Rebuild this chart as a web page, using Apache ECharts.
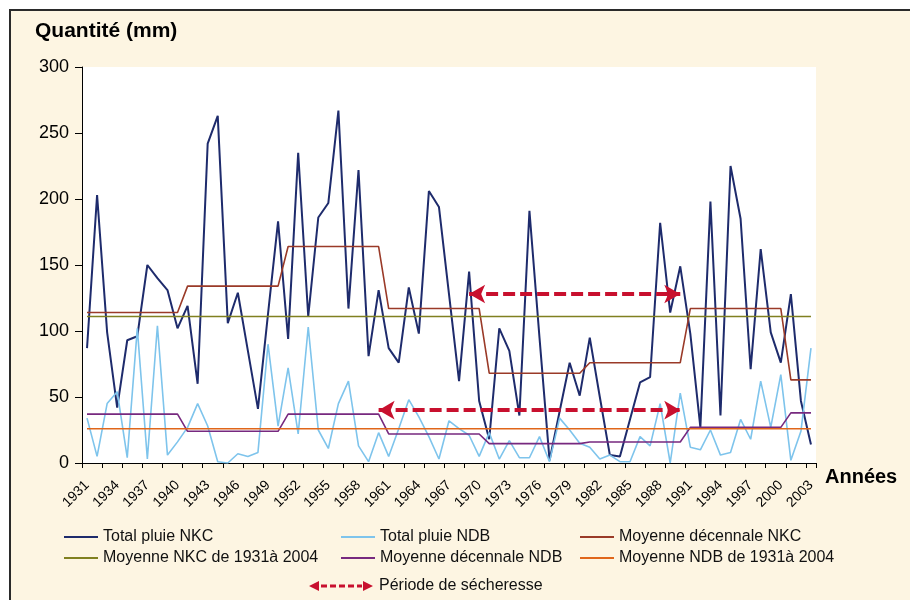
<!DOCTYPE html>
<html>
<head>
<meta charset="utf-8">
<script src="https://cdn.jsdelivr.net/npm/echarts@6/dist/echarts.min.js"></script>
<style>
  html, body { margin: 0; padding: 0; background: #fff; }
  #chart { width: 910px; height: 600px; }
</style>
</head>
<body>
<div id="chart"></div>
<script>
// années 1931 - 2003
const years = []
for (let y = 1931; y <= 2003; y++) years.push(String(y))

// Total pluie (mm)
const pluieNKC = [
  87, 203, 99, 42, 93, 96, 150, 140, 131, 102,
  119, 60, 242, 263, 106, 129, 85, 41, 113, 183,
  94, 235, 111, 186, 197, 267, 117, 222, 81, 131,
  87, 76, 133, 98, 206, 194, 128, 62, 145, 47,
  18, 102, 85, 36, 191, 95, 2, 39, 76, 51,
  95, 50, 6, 5, 33, 61, 65, 182, 114, 149,
  98, 27, 198, 36, 225, 185, 71, 162, 99, 76,
  128, 47, 14
]
const pluieNDB = [
  34, 5, 45, 54, 4, 102, 3, 104, 6, 16,
  27, 45, 28, 1, 0, 7, 5, 8, 90, 28,
  72, 22, 103, 25, 11, 45, 62, 13, 1, 23,
  5, 26, 48, 35, 20, 3, 32, 26, 21, 5,
  23, 3, 17, 4, 4, 20, 1, 34, 25, 15,
  12, 3, 6, 1, 1, 20, 13, 45, 0, 53,
  12, 10, 25, 6, 8, 33, 18, 62, 27, 67,
  2, 24, 87
]

// moyennes décennales (1931-40, 1941-50, ... 2001-03)
const decNKC = [114, 134, 164, 117, 68, 76, 117, 63]
const decNDB = [37, 24, 37, 22, 14.7, 15.9, 27, 38]
const moyNKC = 111
const moyNDB = 26

// périodes de sécheresse [début, fin, niveau]
const secheresse = [['1969', '1990', 128], ['1960', '1990', 40]]

const yTicks = [0, 50, 100, 150, 200, 250, 300]

const parDecennie = (vals) => years.map((y, i) => vals[Math.floor(i / 10)])
const constante = (v) => years.map(() => v)

const font = 'Liberation Sans, Arial, Helvetica, sans-serif'

const lineSerie = (name, data, color, width) => ({
  name,
  type: 'line',
  data,
  symbol: 'none',
  lineStyle: { color, width },
  itemStyle: { color },
  z: 3,
})

const arrowIcon = 'path://M0,5L10,0L10,10Z M12,3.5H18V6.5H12Z M21,3.5H27V6.5H21Z M30,3.5H36V6.5H30Z M39,3.5H45V6.5H39Z M48,3.5H53V6.5H48Z M54,0L64,5L54,10Z'

// une légende par entrée pour caler la position
const legendItems = [
  { name: 'Total pluie NKC', left: 64, top: 529 },
  { name: 'Total pluie NDB', left: 341, top: 529 },
  { name: 'Moyenne décennale NKC', left: 580, top: 529 },
  { name: 'Moyenne NKC de 1931à 2004', left: 64, top: 550 },
  { name: 'Moyenne décennale NDB', left: 341, top: 550 },
  { name: 'Moyenne NDB de 1931à 2004', left: 580, top: 550 },
]
const legends = legendItems.map((it) => ({
  data: [it.name],
  left: it.left,
  top: it.top,
  padding: 0,
  icon: 'rect',
  itemWidth: 34,
  itemHeight: 2,
  selectedMode: false,
  textStyle: { fontSize: 16, color: '#111', fontFamily: font },
}))
legends.push({
  data: ['Période de sécheresse'],
  left: 309,
  top: 578,
  padding: 0,
  icon: arrowIcon,
  itemWidth: 66,
  itemHeight: 10,
  selectedMode: false,
  textStyle: { fontSize: 16, color: '#111', fontFamily: font },
})

const options = {
  animation: false,
  backgroundColor: '#fff',
  graphic: [
    {
      type: 'rect',
      z: -10,
      shape: { x: 10, y: 10, width: 905, height: 595 },
      style: { fill: '#fdf5e2', stroke: '#2a2a2a', lineWidth: 2 },
    },
  ],
  title: [
    {
      text: 'Quantité (mm)',
      left: 35,
      top: 21,
      padding: 0,
      textStyle: { fontSize: 21, fontWeight: 'bold', color: '#000', fontFamily: font },
    },
    {
      text: 'Années',
      left: 825,
      top: 467,
      padding: 0,
      textStyle: { fontSize: 20, fontWeight: 'bold', color: '#000', fontFamily: font },
    },
  ],
  legend: legends,
  grid: {
    left: 82,
    right: 94,
    top: 67,
    bottom: 137,
    show: true,
    backgroundColor: '#fff',
    borderWidth: 0,
  },
  xAxis: {
    type: 'category',
    data: years,
    boundaryGap: true,
    axisLine: { lineStyle: { color: '#000', width: 1 } },
    axisTick: { show: true, interval: 1, length: 5, lineStyle: { color: '#000', width: 1 } },
    axisLabel: {
      interval: 2,
      rotate: 45,
      margin: 20,
      fontSize: 14,
      color: '#000',
      fontFamily: font,
    },
    splitLine: { show: false },
  },
  yAxis: {
    type: 'value',
    min: yTicks[0],
    max: yTicks[yTicks.length - 1],
    interval: 50,
    axisLine: { show: true, lineStyle: { color: '#000', width: 1 } },
    axisTick: { show: true, length: 7, lineStyle: { color: '#000' } },
    axisLabel: { margin: 13, fontSize: 18, color: '#000', fontFamily: font },
    splitLine: { show: false },
  },
  series: [
    lineSerie('Total pluie NKC', pluieNKC, '#1e2b6c', 2),
    lineSerie('Total pluie NDB', pluieNDB, '#7ec4ec', 1.6),
    lineSerie('Moyenne décennale NKC', parDecennie(decNKC), '#9a3a28', 1.6),
    lineSerie('Moyenne NKC de 1931à 2004', constante(moyNKC), '#808020', 1.6),
    lineSerie('Moyenne décennale NDB', parDecennie(decNDB), '#77297f', 1.6),
    lineSerie('Moyenne NDB de 1931à 2004', constante(moyNDB), '#e0661a', 1.6),
    {
      name: 'Période de sécheresse',
      type: 'line',
      data: [],
      itemStyle: { color: '#c8102e' },
      lineStyle: { color: '#c8102e' },
      markLine: {
        silent: true,
        symbol: ['arrow', 'arrow'],
        symbolSize: [14, 16],
        label: { show: false },
        lineStyle: { color: '#c8102e', type: [12, 5], width: 4 },
        data: secheresse.map((s) => [{ coord: [s[0], s[2]] }, { coord: [s[1], s[2]] }]),
      },
      z: 4,
    },
  ],
}

const chart = echarts.init(document.getElementById('chart'))
chart.setOption(options)
window.addEventListener('resize', function () {
  chart && chart.resize()
})
</script>
</body>
</html>
